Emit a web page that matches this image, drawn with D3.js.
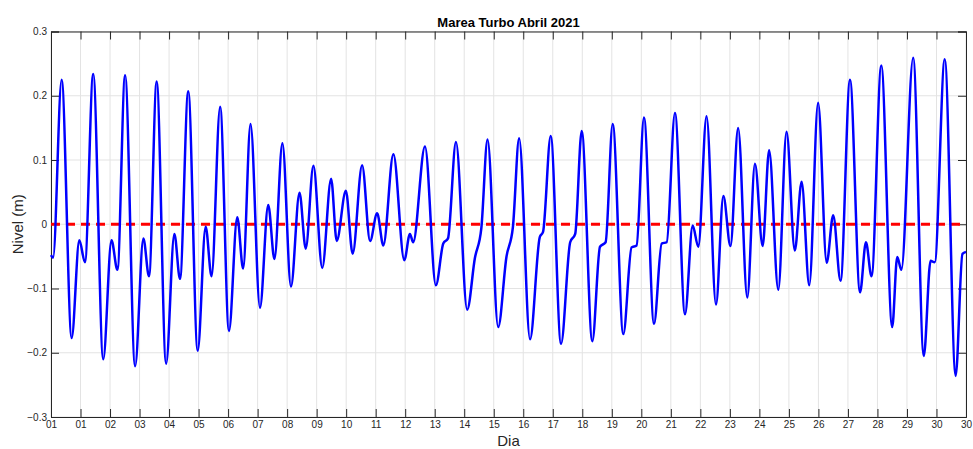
<!DOCTYPE html>
<html>
<head>
<meta charset="utf-8">
<script src="https://cdn.jsdelivr.net/npm/d3@7"></script>
<style>
  body { margin: 0; background: #fff; }
  svg { font-family: "Liberation Sans", Arial, sans-serif; }
</style>
</head>
<body>
<svg id="chart" width="973" height="449"></svg>
<script>
// tide level: day offset from 1 Apr 00:00, level in m
const days = [
  0.00, 0.07, 0.36, 0.70, 0.96, 1.15, 1.43, 1.77, 2.05, 2.25,
  2.51, 2.85, 3.13, 3.32, 3.58, 3.90, 4.18, 4.37, 4.65, 4.97,
  5.24, 5.44, 5.73, 6.03, 6.31, 6.51, 6.76, 7.08, 7.36, 7.57,
  7.84, 8.13, 8.42, 8.63, 8.89, 9.19, 9.49, 9.68, 9.99, 10.22,
  10.54, 10.81, 11.05, 11.26, 11.60, 11.97, 12.16, 12.27, 12.67, 13.04,
  13.29, 13.45, 13.72, 14.10, 14.36, 14.58, 14.79, 15.15, 15.43, 15.65,
  15.86, 16.23, 16.56, 16.67, 16.93, 17.28, 17.59, 17.76, 17.98, 18.34,
  18.60, 18.79, 19.03, 19.39, 19.67, 19.84, 20.09, 20.43, 20.69, 20.86,
  21.14, 21.48, 21.74, 21.93, 22.21, 22.53, 22.78, 23.02, 23.28, 23.59,
  23.85, 24.11, 24.33, 24.64, 24.92, 25.20, 25.43, 25.69, 25.99, 26.28,
  26.50, 26.75, 27.07, 27.41, 27.61, 27.80, 28.13, 28.50, 28.67, 28.81,
  29.21, 29.57, 29.80, 29.94, 30.28, 30.65, 30.88, 31.00
];
const nivel = [
  -0.048, -0.052, 0.225, -0.177, -0.025, -0.059, 0.234, -0.210, -0.025, -0.071,
  0.232, -0.221, -0.022, -0.081, 0.222, -0.217, -0.015, -0.085, 0.207, -0.197,
  -0.004, -0.081, 0.183, -0.166, 0.011, -0.069, 0.156, -0.130, 0.030, -0.054,
  0.126, -0.097, 0.049, -0.038, 0.091, -0.068, 0.071, -0.026, 0.052, -0.046,
  0.092, -0.026, 0.017, -0.033, 0.109, -0.056, -0.015, -0.028, 0.121, -0.095,
  -0.030, -0.022, 0.128, -0.133, -0.053, -0.006, 0.132, -0.160, -0.051, -0.004,
  0.134, -0.179, -0.020, -0.012, 0.1375, -0.186, -0.028, -0.015, 0.145, -0.182,
  -0.035, -0.028, 0.156, -0.171, -0.036, -0.033, 0.166, -0.155, -0.030, -0.028,
  0.173, -0.140, -0.002, -0.035, 0.168, -0.125, 0.044, -0.034, 0.150, -0.114,
  0.094, -0.034, 0.115, -0.102, 0.144, -0.041, 0.066, -0.095, 0.189, -0.060,
  0.014, -0.088, 0.225, -0.106, -0.028, -0.081, 0.247, -0.160, -0.051, -0.071,
  0.259, -0.205, -0.057, -0.059, 0.257, -0.236, -0.046, -0.043
];
const xTickLabels = ["01","01","02","03","04","05","06","07","08","09","10",
  "11","12","13","14","15","16","17","18","19","20","21","22","23","24","25",
  "26","27","28","29","30","30"];
const yTicks = [-0.3, -0.2, -0.1, 0, 0.1, 0.2, 0.3];

const width = 973, height = 449;
const margin = {top: 31.5, right: 7, bottom: 32, left: 51};
const innerW = width - margin.left - margin.right;
const innerH = height - margin.top - margin.bottom;

const svg = d3.select("#chart");
const g = svg.append("g")
  .attr("transform", "translate(" + margin.left + "," + margin.top + ")");

const x = d3.scaleLinear().domain([0, 31]).range([0, innerW]);
const y = d3.scaleLinear().domain([-0.3, 0.3]).range([innerH, 0]);
const xTicks = d3.range(xTickLabels.length);

// grid
g.append("g").selectAll("line").data(xTicks).join("line")
  .attr("x1", d => x(d)).attr("x2", d => x(d))
  .attr("y1", 0).attr("y2", innerH)
  .attr("stroke", "#e3e3e3").attr("stroke-width", 1);
g.append("g").selectAll("line").data(yTicks).join("line")
  .attr("x1", 0).attr("x2", innerW)
  .attr("y1", d => y(d)).attr("y2", d => y(d))
  .attr("stroke", "#e3e3e3").attr("stroke-width", 1);

// axes (inward ticks, box)
const tickLen = 8;
const axisColor = "#262626";
const xAxis = g.append("g")
  .attr("transform", "translate(0," + innerH + ")")
  .call(d3.axisBottom(x).tickValues(xTicks).tickSize(-tickLen).tickPadding(4)
    .tickFormat((d, i) => xTickLabels[i]));
const yAxis = g.append("g")
  .call(d3.axisLeft(y).tickValues(yTicks).tickSize(-tickLen).tickPadding(4)
    .tickFormat(d => d === 0 ? "0" : d3.format(".1f")(d)));
const xTop = g.append("g")
  .call(d3.axisTop(x).tickValues(xTicks).tickSize(-tickLen).tickFormat(""));
const yRight = g.append("g")
  .attr("transform", "translate(" + innerW + ",0)")
  .call(d3.axisRight(y).tickValues(yTicks).tickSize(-tickLen).tickFormat(""));

[xAxis, yAxis, xTop, yRight].forEach(a => {
  a.select(".domain").attr("stroke", axisColor).attr("stroke-width", 1);
  a.selectAll(".tick line").attr("stroke", axisColor).attr("stroke-width", 1);
  a.selectAll(".tick text").attr("fill", axisColor)
    .style("font-size", "10px").style("font-family", "'Liberation Sans', Arial, sans-serif");
});

// zero reference
g.append("line")
  .attr("x1", 0).attr("x2", innerW)
  .attr("y1", y(0)).attr("y2", y(0))
  .attr("stroke", "#ff0000").attr("stroke-width", 3)
  .attr("stroke-dasharray", "9,6");

// tide series
const line = d3.line()
  .x((d, i) => x(days[i]))
  .y(d => y(d))
  .curve(d3.curveMonotoneX);

g.append("path")
  .datum(nivel)
  .attr("d", line)
  .attr("fill", "none")
  .attr("stroke", "#0000ff")
  .attr("stroke-width", 2.5)
  .attr("stroke-linejoin", "round");

// labels
svg.append("text")
  .attr("x", margin.left + innerW / 2).attr("y", 27)
  .attr("text-anchor", "middle")
  .style("font-size", "13px").style("font-weight", "bold")
  .attr("fill", "#000")
  .text("Marea Turbo Abril 2021");

svg.append("text")
  .attr("x", margin.left + innerW / 2).attr("y", 446)
  .attr("text-anchor", "middle")
  .style("font-size", "15px")
  .attr("fill", axisColor)
  .text("Dia");

svg.append("text")
  .attr("transform", "translate(23," + (margin.top + innerH / 2) + ") rotate(-90)")
  .attr("text-anchor", "middle")
  .style("font-size", "15px")
  .attr("fill", axisColor)
  .text("Nivel (m)");
</script>
</body>
</html>
